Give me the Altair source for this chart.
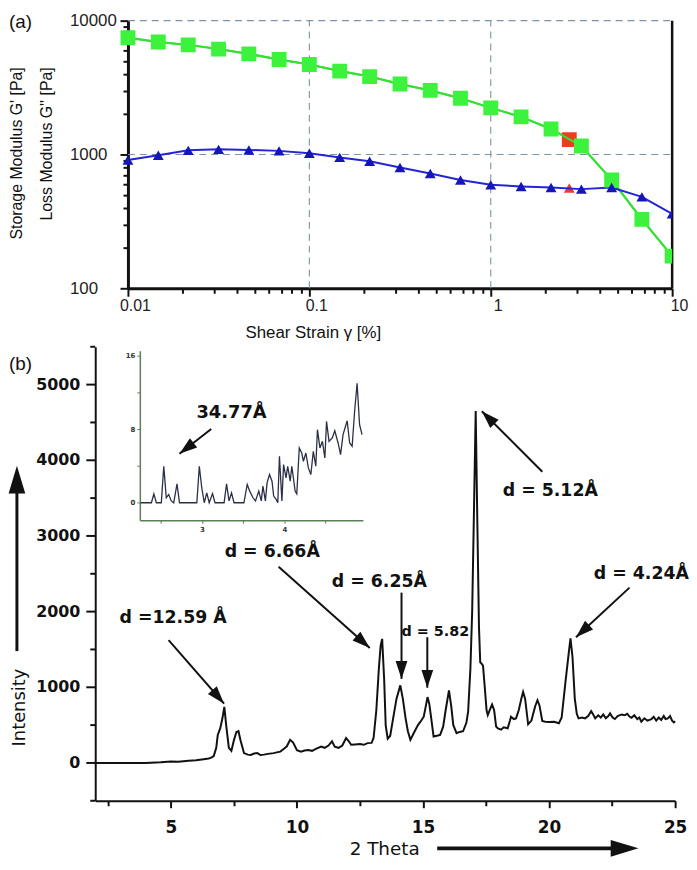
import math
import altair as alt
import pandas as pd

# ---------------- (a) strain sweep ----------------
strain = [0.01, 0.0147, 0.0215, 0.0316, 0.0464, 0.0681, 0.1, 0.147, 0.215, 0.316,
          0.464, 0.681, 1.0, 1.47, 2.15, 3.16, 4.64, 6.81, 10.0]
storage_modulus = [7450, 6930, 6590, 6130, 5640, 5130, 4700, 4200, 3820, 3360,
                   3010, 2630, 2230, 1910, 1550, 1156, 645, 327, 174]
loss_modulus = [909, 988, 1074, 1092, 1081, 1064, 1022, 951, 890, 800,
                720, 645, 593, 577, 567, 551, 567, 482, 360]
crossover_strain = [2.71]
crossover_storage = [1291]
crossover_loss = [561]

strain_ticks = [0.01, 0.02, 0.03, 0.04, 0.05, 0.06, 0.07, 0.08, 0.09,
                0.1, 0.2, 0.3, 0.4, 0.5, 0.6, 0.7, 0.8, 0.9,
                1, 2, 3, 4, 5, 6, 7, 8, 9, 10]
strain_labels = [0.01, 0.1, 1, 10]
modulus_ticks = [100, 200, 300, 400, 500, 600, 700, 800, 900,
                 1000, 2000, 3000, 4000, 5000, 6000, 7000, 8000, 9000, 10000]
modulus_labels = [100, 1000, 10000]
grid_strain = [0.1, 1]
grid_modulus = [1000, 10000]

# ---------------- (b) XRD pattern ----------------
xrd_2theta = [2.0, 4.0, 4.6, 5.0, 5.3, 5.7, 6.0, 6.3, 6.5, 6.6, 6.7, 6.8, 6.86, 6.96, 7.05, 7.12, 7.2, 7.3, 7.4, 7.5,
              7.6, 7.68, 7.77, 7.9, 8.05, 8.17, 8.3, 8.43, 8.55, 8.69, 8.85, 9.08, 9.2, 9.34, 9.5, 9.6, 9.73, 9.85, 10.0, 10.16,
              10.3, 10.45, 10.6, 10.75, 10.96, 11.1, 11.25, 11.39, 11.5, 11.65, 11.8, 11.95, 12.05, 12.15, 12.3, 12.5, 12.65, 12.8, 12.96, 13.04,
              13.15, 13.25, 13.32, 13.38, 13.46, 13.52, 13.6, 13.7, 13.8, 13.95, 14.1, 14.2, 14.31, 14.4, 14.5, 14.63, 14.8, 14.9, 15.03, 15.18,
              15.25, 15.31, 15.42, 15.55, 15.68, 15.8, 15.9, 16.03, 16.12, 16.2, 16.33, 16.45, 16.59, 16.72, 16.79, 16.88, 16.95, 17.02, 17.09, 17.15,
              17.22, 17.27, 17.33, 17.38, 17.45, 17.52, 17.57, 17.65, 17.74, 17.82, 17.9, 17.97, 18.1, 18.2, 18.36, 18.45, 18.49, 18.6, 18.69, 18.8,
              18.9, 18.97, 19.05, 19.17, 19.3, 19.45, 19.54, 19.62, 19.73, 19.85, 20.0, 20.2, 20.39, 20.5, 20.65, 20.78, 20.85, 20.93, 21.02, 21.1,
              21.17, 21.3, 21.43, 21.55, 21.67, 21.75, 21.83, 21.95, 22.05, 22.15, 22.25, 22.35, 22.42, 22.52, 22.61, 22.72, 22.88, 23.0, 23.1, 23.2,
              23.27, 23.38, 23.5, 23.58, 23.66, 23.78, 23.9, 24.06, 24.15, 24.25, 24.35, 24.45, 24.55, 24.62, 24.71, 24.8, 24.88, 24.95, 25.0]
xrd_intensity = [0, 0, 10, 20, 15, 30, 35, 50, 60, 70, 90, 200, 370, 460, 600, 740, 480, 200, 160, 300,
                 410, 420, 290, 130, 110, 105, 125, 130, 105, 110, 120, 130, 140, 150, 190, 220, 305, 270, 170, 150,
                 165, 170, 160, 185, 215, 200, 230, 285, 215, 200, 230, 330, 290, 240, 245, 250, 240, 262, 265, 330,
                 700, 1250, 1550, 1640, 1100, 500, 320, 360, 560, 850, 1025, 850, 590, 420, 305, 393, 500, 545, 611, 870,
                 780, 633, 349, 360, 371, 480, 700, 960, 750, 502, 393, 410, 419, 530, 677, 1244, 2000, 3300, 4650, 3300,
                 1800, 1330, 1310, 1287, 1000, 700, 633, 700, 772, 700, 480, 458, 440, 470, 458, 560, 611, 580, 589, 700,
                 850, 938, 850, 511, 560, 750, 829, 760, 554, 545, 540, 545, 524, 600, 1069, 1450, 1645, 1400, 851, 650,
                 589, 600, 589, 620, 685, 640, 589, 630, 600, 640, 590, 620, 655, 600, 580, 620, 641, 630, 650, 610,
                 598, 630, 580, 600, 545, 590, 560, 580, 610, 560, 600, 567, 620, 580, 589, 620, 560, 536, 550]
assert len(xrd_2theta) == len(xrd_intensity)

inset_2theta = [2.26, 2.39, 2.42, 2.45, 2.51, 2.54, 2.57, 2.60, 2.63, 2.66, 2.70, 2.73, 2.94, 2.97, 3.00,
                3.03, 3.06, 3.09, 3.13, 3.16, 3.27, 3.30, 3.33, 3.36, 3.39, 3.51, 3.55, 3.58, 3.62, 3.65,
                3.69, 3.72, 3.74, 3.77, 3.79, 3.82, 3.85, 3.87, 3.90, 3.92, 3.94, 3.97, 3.99, 4.02, 4.04,
                4.07, 4.09, 4.13, 4.15, 4.18, 4.21, 4.23, 4.26, 4.29, 4.32, 4.35, 4.38, 4.40, 4.43, 4.46,
                4.49, 4.51, 4.54, 4.58, 4.61, 4.65, 4.68, 4.71, 4.76, 4.79, 4.82, 4.85, 4.88, 4.91, 4.94]
inset_intensity = [0, 0, 0.97, 0, 0, 3.96, 0.54, 0.9, 0.2, 0, 2.05, 0, 0, 3.96, 1.6,
                   0, 1.08, 0, 1.0, 0, 0, 2.05, 0.2, 1.08, 0, 0, 1.98, 1.26, 0.54, 0.2,
                   1.26, 0.2, 1.8, 0.2, 2.16, 3.06, 2.34, 0.72, 0.36, 0, 5.05, 0.2, 4.14, 2.7, 3.96,
                   2.34, 3.96, 1.26, 0.97, 5.95, 5.4, 4.5, 5.4, 3.78, 3.06, 5.59, 3.96, 7.93, 5.95, 6.67,
                   4.86, 8.83, 6.67, 7.03, 7.82, 6.49, 5.23, 7.39, 8.9, 6.49, 6.13, 9.9, 12.97, 8.47, 7.39]
assert len(inset_2theta) == len(inset_intensity)

theta_ticks = [2.5, 5, 7.5, 10, 12.5, 15, 17.5, 20, 22.5, 25]
theta_labels = [5, 10, 15, 20, 25]
intensity_major = [0, 1000, 2000, 3000, 4000, 5000]
intensity_minor = [-500, 500, 1500, 2500, 3500, 4500, 5500]
intensity_tick_text = ["0", "1000", "2000", "3000", "4000", "5000"]
inset_theta_ticks = [2.5, 3, 3.5, 4, 4.5]
inset_theta_labels = [3, 4]
inset_int_ticks = [0, 4, 8, 12, 16]
inset_int_labels = [0, 8, 16]

peak_labels = ["d = 5.12Å", "d = 6.66Å", "d = 6.25Å", "d = 4.24Å", "d =12.59 Å"]
peak_label_x = [20.05, 9.02, 13.27, 23.66, 5.09]
peak_label_y = [3600, 2788, 2395, 2493, 1918]
small_label = ["d = 5.82"]
small_label_x = [15.49]
small_label_y = [1734]
arrow_x0 = [4.909, 9.273, 14.148, 15.171, 19.732, 23.191]
arrow_y0 = [1622, 2592, 2251, 1662, 3849, 2317]
arrow_x1 = [7.111, 12.89, 14.148, 15.171, 17.333, 21.068]
arrow_y1 = [784, 1518, 1111, 994, 4648, 1662]
inset_label = ["34.77Å"]
inset_label_x = [3.36]
inset_label_y = [9.72]
inset_arrow_x0 = [3.114]
inset_arrow_y0 = [8.0]
inset_arrow_x1 = [2.73]
inset_arrow_y1 = [5.31]

# ---------------- layout / style ----------------
WA, HA = 582, 270          # panel (a) group; its log axis starts 33 px in
A_LEFT = 33
WB, HB = 585, 458
WI, HI = 270, 175          # inset group (shares the panel (b) origin)
GREEN = "#3df23d"
GREEN_LINE = "#35e035"
BLUE = "#1515b8"
BLUE_LINE = "#2424d8"
RED = "#e8401e"
GRID = "#7d93a6"
INK = "#111111"
INSET_AX = "#5b7d58"
HEAD_S = "M0,0 L0.33,1 L-0.33,1 Z"
HEAD_L = "M0,0 L0.3,1 L-0.3,1 Z"


def cond(test, major, minor):
    return {"condition": {"test": test, "value": major}, "value": minor}


def in_list(lst):
    return "indexof(%s, datum.value) >= 0" % str(lst)


def lab_expr(lst):
    return in_list(lst) + " ? datum.value + '' : ''"


def ptext(text, x, y, size, font, weight="normal", align="center", baseline="middle", angle=0):
    return alt.Chart(pd.DataFrame({"t": [text]})).mark_text(
        text=text, font=font, fontSize=size, fontWeight=weight, align=align,
        baseline=baseline, angle=angle, color=INK
    ).encode(x=alt.value(x), y=alt.value(y))


def enc(field, chan, scale, axis=None):
    kw = {"type": "quantitative", "scale": scale}
    if axis is not None:
        kw["axis"] = axis
    return chan(field, **kw)


def head_angle(x0, y0, x1, y1, sx, sy):
    dx = (x1 - x0) * sx
    dy = -(y1 - y0) * sy
    return math.degrees(math.atan2(dx, -dy)) % 360


# ----- panel (a) -----
xA = alt.Scale(type="log", domain=[0.01, 10], range=[A_LEFT, WA], nice=False)
yA = alt.Scale(type="log", domain=[100, 10000], nice=False)
axis_xA = alt.Axis(orient="bottom", values=strain_ticks, labelExpr=lab_expr(strain_labels),
                   tickSize=cond(in_list(strain_labels), 8, 5), tickWidth=2, tickColor=INK, domainColor=INK,
                   domainWidth=3, labelFont="Liberation Sans", labelFontSize=16, labelColor="#222", labelPadding=1,
                   labelOffset=7, labelFlush=False, labelOverlap=False, grid=False, title=None)
axis_yA = alt.Axis(orient="left", offset=-A_LEFT, values=modulus_ticks, labelExpr=lab_expr(modulus_labels),
                   tickSize=cond(in_list(modulus_labels), 8, 5), tickWidth=2, tickColor=INK, domainColor=INK,
                   domainWidth=3, labelFont="Liberation Sans", labelFontSize=17, labelColor="#222", labelAlign="left",
                   labelBaseline="middle", labelPadding=51, labelFlush=False, labelOverlap=False,
                   grid=False, title=None)

dfA = pd.DataFrame({"strain": strain, "Gp": storage_modulus, "Gpp": loss_modulus})
dfX = pd.DataFrame({"strain": crossover_strain, "Gp": crossover_storage, "Gpp": crossover_loss})
gridV = pd.DataFrame({"x": grid_strain, "y1": [100] * len(grid_strain), "y2": [10000] * len(grid_strain)})
gridH = pd.DataFrame({"y": grid_modulus, "x1": [0.01] * len(grid_modulus), "x2": [10] * len(grid_modulus)})
border = pd.DataFrame({"x": [10], "y1": [100], "y2": [10000]})

XA = lambda f, ax=None: enc(f, alt.X, xA, ax)
YA = lambda f, ax=None: enc(f, alt.Y, yA, ax)

layers_a = [
    alt.Chart(dfA).mark_line(color=GREEN_LINE, strokeWidth=2, clip=True).encode(x=XA("strain", axis_xA), y=YA("Gp", axis_yA)),
    alt.Chart(gridV).mark_rule(color=GRID, strokeDash=[7, 5], strokeWidth=1.1).encode(x=XA("x"), y=YA("y1"), y2="y2"),
    alt.Chart(gridH).mark_rule(color=GRID, strokeDash=[7, 5], strokeWidth=1.1).encode(y=YA("y"), x=XA("x1"), x2="x2"),
    alt.Chart(border).mark_rule(color=INK, strokeWidth=2.5).encode(x=XA("x"), y=YA("y1"), y2="y2"),
    alt.Chart(dfX).mark_point(shape="square", filled=True, size=225, color=RED, opacity=1, clip=True).encode(x=XA("strain"), y=YA("Gp")),
    alt.Chart(dfX).mark_point(shape="triangle-up", filled=True, size=120, color=RED, opacity=1, clip=True).encode(x=XA("strain"), y=YA("Gpp")),
    alt.Chart(dfA).mark_line(color=GREEN_LINE, strokeWidth=2, clip=True).encode(x=XA("strain"), y=YA("Gp")),
    alt.Chart(dfA).mark_line(color=BLUE_LINE, strokeWidth=2, clip=True).encode(x=XA("strain"), y=YA("Gpp")),
    alt.Chart(dfA).mark_point(shape="square", filled=True, size=225, color=GREEN, opacity=1, clip=True).encode(x=XA("strain"), y=YA("Gp")),
    alt.Chart(dfA).mark_point(shape="triangle-up", filled=True, size=120, color=BLUE, opacity=1, clip=True).encode(x=XA("strain"), y=YA("Gpp")),
    ptext("(a)", -87, -8, 19, "Liberation Sans", align="left", baseline="top"),
    ptext("Storage Modulus G'  [Pa]", -79, 47, 16, "Liberation Sans", align="right", angle=270),
    ptext("Loss Modulus G''  [Pa]", -49, 47, 16, "Liberation Sans", align="right", angle=270),
    ptext("Shear Strain γ [%]", 220, 315, 17, "Liberation Sans"),
]
chartA = alt.layer(*layers_a).properties(width=WA, height=HA)

# ----- panel (b) main -----
xB = alt.Scale(domain=[2, 25], nice=False, zero=False)
yB = alt.Scale(domain=[-500, 5500], nice=False, zero=False)
PX_X = WB / 23.0
PX_Y = HB / 6000.0
axis_xB = alt.Axis(orient="bottom", values=theta_ticks, labelExpr=lab_expr(theta_labels),
                   tickSize=cond(in_list(theta_labels), 7, 5), tickWidth=2, tickColor=INK, domainColor=INK,
                   domainWidth=2, labelFont="DejaVu Sans", labelFontWeight="bold", labelFontSize=17,
                   labelColor=INK, labelPadding=12, labelFlush=False, labelOverlap=False, grid=False, title=None)
# y axis: the axis draws the spine; its ticks and labels are placed through the same y scale below
axis_yB = alt.Axis(orient="left", values=intensity_major, ticks=False, labels=False, domainColor=INK,
                   domainWidth=2, grid=False, title=None)

XB = lambda f, ax=None: enc(f, alt.X, xB, ax)
YB = lambda f, ax=None: enc(f, alt.Y, yB, ax)

dfB = pd.DataFrame({"tt": xrd_2theta, "I": xrd_intensity})
dfArr = pd.DataFrame({"x0": arrow_x0, "y0": arrow_y0, "x1": arrow_x1, "y1": arrow_y1})
dfArr["ang"] = [head_angle(a, b, c, d, PX_X, PX_Y) for a, b, c, d in zip(arrow_x0, arrow_y0, arrow_x1, arrow_y1)]
dfLab = pd.DataFrame({"x": peak_label_x, "y": peak_label_y, "t": peak_labels})
dfSmall = pd.DataFrame({"x": small_label_x, "y": small_label_y, "t": small_label})
dfYMaj = pd.DataFrame({"v": intensity_major, "lab": intensity_tick_text})
dfYMin = pd.DataFrame({"v": intensity_minor})

main_b = alt.layer(
    alt.Chart(dfB).mark_line(color=INK, strokeWidth=2).encode(x=XB("tt", axis_xB), y=YB("I", axis_yB)),
    alt.Chart(dfYMaj).mark_rule(color=INK, strokeWidth=2).encode(x=alt.value(-9), x2=alt.value(0), y=YB("v")),
    alt.Chart(dfYMin).mark_rule(color=INK, strokeWidth=2).encode(x=alt.value(-5), x2=alt.value(0), y=YB("v")),
    alt.Chart(dfYMaj).mark_text(font="DejaVu Sans", fontWeight="bold", fontSize=16, color=INK, align="right",
                                baseline="middle").encode(x=alt.value(-15), y=YB("v"), text="lab:N"),
    alt.Chart(dfArr).mark_rule(color=INK, strokeWidth=2).encode(x=XB("x0"), y=YB("y0"), x2="x1", y2="y1"),
    alt.Chart(dfArr).mark_point(shape=HEAD_S, filled=True, size=1296, color=INK, opacity=1, strokeWidth=0).encode(
        x=XB("x1"), y=YB("y1"), angle=alt.Angle("ang:Q", scale=None)),
    alt.Chart(dfLab).mark_text(font="DejaVu Sans", fontWeight="bold", fontSize=17.5, color=INK).encode(
        x=XB("x"), y=YB("y"), text="t:N"),
    alt.Chart(dfSmall).mark_text(font="DejaVu Sans", fontWeight="bold", fontSize=14.5, color=INK).encode(
        x=XB("x"), y=YB("y"), text="t:N"),
    ptext("(b)", -87, 8, 19, "Liberation Sans", align="left", baseline="top"),
    ptext("Intensity", -76, 364, 18, "DejaVu Sans", angle=270),
    alt.Chart(pd.DataFrame({"v": [0]})).mark_rule(color=INK, strokeWidth=3).encode(
        x=alt.value(-79), y=alt.value(307), y2=alt.value(140)),
    alt.Chart(pd.DataFrame({"v": [0]})).mark_point(shape=HEAD_L, filled=True, size=3136, color=INK, opacity=1,
                                                   strokeWidth=0, angle=0).encode(x=alt.value(-79), y=alt.value(120)),
    ptext("2 Theta", 292, 507, 18.5, "DejaVu Sans"),
    alt.Chart(pd.DataFrame({"v": [0]})).mark_rule(color=INK, strokeWidth=4).encode(
        x=alt.value(345), x2=alt.value(530), y=alt.value(506)),
    alt.Chart(pd.DataFrame({"v": [0]})).mark_point(shape=HEAD_L, filled=True, size=3136, color=INK, opacity=1,
                                                   strokeWidth=0, angle=90).encode(x=alt.value(548), y=alt.value(506)),
).properties(width=WB, height=HB)

# ----- panel (b) inset (own scales, drawn over the same origin) -----
xI = alt.Scale(domain=[2.25, 4.95], range=[45, WI], nice=False, zero=False)
yI = alt.Scale(domain=[-1.9, 16.5], range=[HI, 4], nice=False, zero=False)
PX_IX = (WI - 45) / 2.7
PX_IY = (HI - 4) / 18.4
axis_xI = alt.Axis(orient="bottom", values=inset_theta_ticks,
                   labelExpr=lab_expr(inset_theta_labels), tickSize=3, tickWidth=1,
                   tickColor=INSET_AX, domainColor=INSET_AX, domainWidth=1.5, labelFont="DejaVu Sans",
                   labelFontWeight="bold", labelFontSize=7, labelColor="#333", labelPadding=2,
                   labelFlush=False, labelOverlap=False, grid=False, title=None)
axis_yI = alt.Axis(orient="left", offset=-45, values=inset_int_ticks,
                   labelExpr=lab_expr(inset_int_labels), tickSize=3, tickWidth=1,
                   tickColor=INSET_AX, domainColor=INSET_AX, domainWidth=1.5, labelFont="DejaVu Sans",
                   labelFontWeight="bold", labelFontSize=7, labelColor="#333", labelPadding=2,
                   labelFlush=False, labelOverlap=False, grid=False, title=None)
XI = lambda f, ax=None: enc(f, alt.X, xI, ax)
YI = lambda f, ax=None: enc(f, alt.Y, yI, ax)
dfI = pd.DataFrame({"tt": inset_2theta, "I": inset_intensity})
dfIA = pd.DataFrame({"x0": inset_arrow_x0, "y0": inset_arrow_y0, "x1": inset_arrow_x1, "y1": inset_arrow_y1})
dfIA["ang"] = [head_angle(a, b, c, d, PX_IX, PX_IY) for a, b, c, d in
               zip(inset_arrow_x0, inset_arrow_y0, inset_arrow_x1, inset_arrow_y1)]
dfIL = pd.DataFrame({"x": inset_label_x, "y": inset_label_y, "t": inset_label})
inset_b = alt.layer(
    alt.Chart(dfI).mark_line(color="#2b2f45", strokeWidth=1.3).encode(x=XI("tt", axis_xI), y=YI("I", axis_yI)),
    alt.Chart(dfIA).mark_rule(color=INK, strokeWidth=2).encode(x=XI("x0"), y=YI("y0"), x2="x1", y2="y1"),
    alt.Chart(dfIA).mark_point(shape=HEAD_S, filled=True, size=1296, color=INK, opacity=1, strokeWidth=0).encode(
        x=XI("x1"), y=YI("y1"), angle=alt.Angle("ang:Q", scale=None)),
    alt.Chart(dfIL).mark_text(font="DejaVu Sans", fontWeight="bold", fontSize=18, color=INK).encode(
        x=XI("x"), y=YI("y"), text="t:N"),
).properties(width=WI, height=HI)

# the wrapped inset takes no room in a flush layout, so the main panel starts at the same origin
panelB = alt.vconcat(alt.hconcat(inset_b, bounds="flush"), main_b, spacing=0, bounds="flush")

chart = alt.vconcat(chartA, panelB, spacing=59, bounds="flush").properties(
    padding={"left": 0, "top": 0, "right": 0, "bottom": 0}
).configure_view(stroke=None)

chart.save("out.html", embed_options={"renderer": "svg", "actions": False})
